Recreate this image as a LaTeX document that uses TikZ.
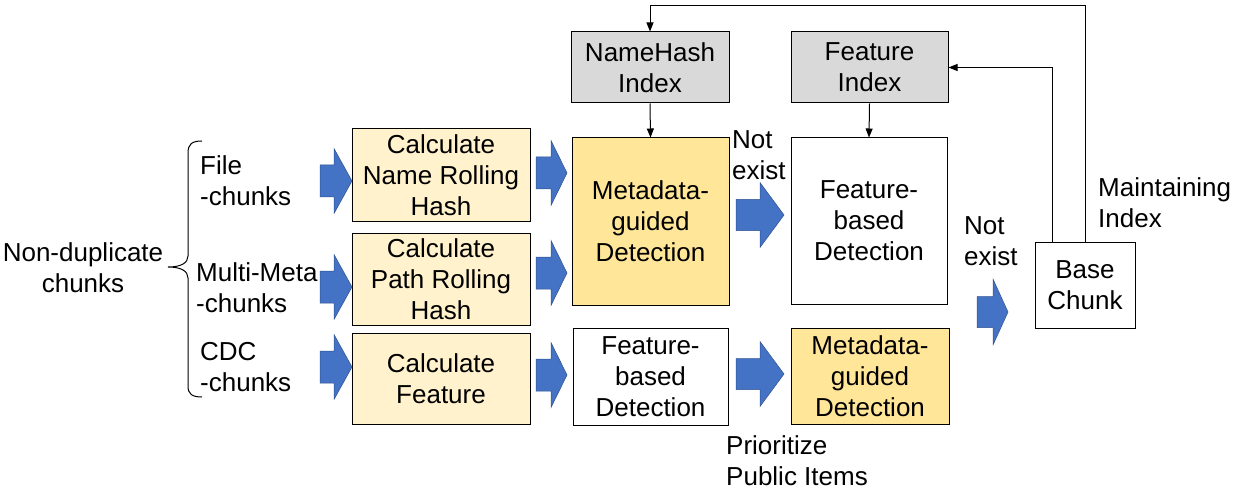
\documentclass[tikz,border=0pt]{standalone}
\usepackage{fontspec}
\setmainfont{Liberation Sans}
\usetikzlibrary{arrows.meta,calc}
\definecolor{blk}{HTML}{4472C4}
\definecolor{blkline}{HTML}{2F528F}
\definecolor{lyel}{HTML}{FFF2CC}
\definecolor{dyel}{HTML}{FFE699}
\definecolor{gr}{HTML}{D9D9D9}
\newcommand{\blkarrow}[6]{% x0 xs xt yc shafthalf headhalf
  \fill[blk,draw=blkline,line width=0.5pt] (#1,#4-#5) -- (#2,#4-#5) -- (#2,#4-#6) -- (#3,#4) -- (#2,#4+#6) -- (#2,#4+#5) -- (#1,#4+#5) -- cycle;}
\tikzset{
  box/.style={draw=black,line width=1pt,align=center,inner sep=0pt,font=\fontsize{26}{31}\selectfont},
  lbl/.style={align=left,anchor=west,inner sep=0pt,font=\fontsize{26}{31}\selectfont},
  conn/.style={line width=1pt,-{Triangle[length=9pt,width=7pt]}},
}
\begin{document}
\begin{tikzpicture}[x=1pt,y=-1pt]
\useasboundingbox (0,0) rectangle (1239,497);
% boxes
\node[box,fill=lyel,minimum width=178,minimum height=92] (calc1) at (441,175) {Calculate\\Name Rolling\\Hash};
\node[box,fill=lyel,minimum width=178,minimum height=92] (calc2) at (441,279) {Calculate\\Path Rolling\\Hash};
\node[box,fill=lyel,minimum width=178,minimum height=91] (calc3) at (441,378.5) {Calculate\\Feature};
\node[box,fill=dyel,minimum width=157,minimum height=167] (meta1) at (650.5,221.5) {Metadata-\\guided\\Detection};
\node[box,fill=white,minimum width=156,minimum height=166] (feat1) at (869,221) {Feature-\\based\\Detection};
\node[box,fill=gr,minimum width=158,minimum height=71] (nhi) at (650,67.5) {NameHash\\Index};
\node[box,fill=gr,minimum width=157,minimum height=71] (fi) at (869.5,67.5) {Feature\\Index};
\node[box,fill=white,minimum width=155,minimum height=97] (feat2) at (650.5,376.5) {Feature-\\based\\Detection};
\node[box,fill=dyel,minimum width=158,minimum height=96] (meta2) at (870,376) {Metadata-\\guided\\Detection};
\node[box,fill=white,minimum width=100,minimum height=86] (base) at (1085,285) {Base\\Chunk};
% labels
\node[align=center,inner sep=0pt,font=\fontsize{26}{31}\selectfont] (nondup) at (83,268) {Non-duplicate\\chunks};
\node[lbl] (l1) at (200,181) {File\\-chunks};
\node[lbl] (l2) at (196,287.5) {Multi-Meta\\-chunks};
\node[lbl] (l3) at (200,367) {CDC\\-chunks};
\node[lbl] (ne1) at (732,155) {Not\\exist};
\node[lbl] (ne2) at (964,241) {Not\\exist};
\node[lbl] (mi) at (1098,202.5) {Maintaining\\Index};
\node[lbl] (pp) at (726,461) {Prioritize\\Public Items};
% brace
\draw[line width=1pt] (202,141) .. controls (192,141) and (188,144) .. (188,153) -- (188,256) .. controls (188,263) and (181,267) .. (168,267) .. controls (181,267) and (188,271) .. (188,278) -- (188,386) .. controls (188,394) and (192,397) .. (202,397);
% block arrows
\blkarrow{320}{334}{352}{181}{16}{32.5}
\blkarrow{320}{334}{352}{287}{16}{32.5}
\blkarrow{320}{334}{352}{367}{16}{32.5}
\blkarrow{536}{551}{567}{173}{16}{32.5}
\blkarrow{536}{551}{567}{273}{16}{32.5}
\blkarrow{536}{551}{567}{375}{16}{32.5}
\blkarrow{736}{760}{784}{215}{15.5}{32.5}
\blkarrow{736}{760}{784}{374}{15.5}{32.5}
\blkarrow{977}{993}{1008}{312}{15.5}{33}
% connectors
\draw[conn] (nhi.south) -- (meta1.north);
\draw[conn] (fi.south) -- (feat1.north);
\coordinate (b1) at ($(base.north west)+(18,0)$);
\coordinate (b2) at ($(base.north west)+(51,0)$);
\draw[conn] (b1) |- (fi.east);
\draw[conn] (b2) -- ++(0,-236) -| (nhi.north);
\end{tikzpicture}
\end{document}
